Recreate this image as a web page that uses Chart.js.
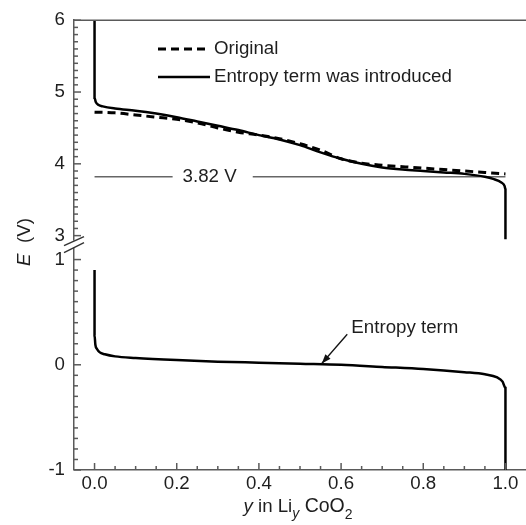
<!DOCTYPE html>
<html>
<head>
<meta charset="utf-8">
<script src="https://cdn.jsdelivr.net/npm/chart.js@4"></script>
<style>body{margin:0;background:#fff}</style>
</head>
<body>
<canvas id="chart" width="526" height="525"></canvas>
<script>
// values: y in LiyCoO2 vs E (V)
var origX = [0, 0.05, 0.1, 0.15, 0.2, 0.25, 0.3, 0.35, 0.4, 0.45, 0.5, 0.55, 0.6, 0.65, 0.7, 0.75, 0.8, 0.85, 0.9, 0.95, 1.0];
var origE = [4.72, 4.71, 4.68, 4.65, 4.62, 4.57, 4.50, 4.44, 4.40, 4.35, 4.28, 4.19, 4.07, 4.01, 3.98, 3.96, 3.94, 3.92, 3.90, 3.88, 3.86];

var entX = [0, 0, 0.003, 0.01, 0.02, 0.05, 0.1, 0.15, 0.2, 0.25, 0.3, 0.35, 0.4, 0.45, 0.5, 0.55, 0.6, 0.65, 0.7, 0.75, 0.8, 0.85, 0.9, 0.95, 0.97, 0.99, 0.998, 1.0, 1.0];
var entE = [6.0, 4.92, 4.86, 4.82, 4.80, 4.77, 4.74, 4.70, 4.65, 4.59, 4.53, 4.47, 4.40, 4.34, 4.26, 4.16, 4.07, 4.00, 3.95, 3.92, 3.90, 3.88, 3.86, 3.82, 3.79, 3.74, 3.69, 3.64, 2.95];

var termX = [0, 0, 0.002, 0.006, 0.012, 0.025, 0.05, 0.1, 0.2, 0.3, 0.4, 0.5, 0.6, 0.7, 0.8, 0.9, 0.95, 0.98, 0.993, 1.0, 1.0];
var termE = [0.9, 0.28, 0.19, 0.15, 0.12, 0.10, 0.08, 0.065, 0.045, 0.03, 0.02, 0.01, 0.0, -0.02, -0.04, -0.07, -0.09, -0.12, -0.16, -0.22, -1.0];

var refX = [0, 0.19, 0.19, 0.385, 1.0];
var refE = [3.82, 3.82, null, 3.82, 3.82];

var xTicks = [0, 0.2, 0.4, 0.6, 0.8, 1.0];
var topTicks = [3, 4, 5, 6];
var botTicks = [-1, 0, 1];

var FONT = '"Liberation Sans", Arial, sans-serif';
var FS = 18.7;
var TXT = '#1e1e1e';
var AXIS = '#5a5a5a';

function pts(xs, ys) {
  return xs.map(function (x, i) { return { x: x, y: ys[i] }; });
}
function fixTicks(vals) {
  return function (s) { s.ticks = vals.map(function (v) { return { value: v }; }); };
}

function line(ctx, x1, y1, x2, y2) {
  ctx.beginPath(); ctx.moveTo(x1, y1); ctx.lineTo(x2, y2); ctx.stroke();
}
function rich(ctx, parts, cx, cy) {
  var total = 0;
  parts.forEach(function (p) { ctx.font = p.f; p.w = ctx.measureText(p.t).width; total += p.w; });
  var x = cx - total / 2;
  parts.forEach(function (p) { ctx.font = p.f; ctx.fillText(p.t, x, cy + (p.dy || 0)); x += p.w; });
}

var decor = {
  id: 'decor',
  afterDraw: function (chart) {
    var ctx = chart.ctx, a = chart.chartArea;
    var xs = chart.scales.x, yt = chart.scales.yTop, yb = chart.scales.yBot;
    var v, p, i;
    ctx.save();
    ctx.strokeStyle = AXIS;
    ctx.lineWidth = 1.5;
    line(ctx, a.left, a.top, a.right, a.top);

    // inward tick marks
    for (i = 0; i <= 20; i++) {
      v = i * 0.05; p = xs.getPixelForValue(v);
      line(ctx, p, a.bottom, p, a.bottom - (i % 4 === 0 ? 7 : 4));
    }
    for (i = 0; i <= 30; i++) {
      v = 3 + i * 0.1; p = yt.getPixelForValue(v);
      line(ctx, a.left, p, a.left + (i % 10 === 0 ? 7 : 4), p);
    }
    for (i = 0; i <= 20; i++) {
      v = -1 + i * 0.1; p = yb.getPixelForValue(v);
      line(ctx, a.left, p, a.left + (i % 10 === 0 ? 7 : 4), p);
    }

    // axis break
    var yb1 = yt.bottom - 7, yb2 = yt.bottom;
    ctx.fillStyle = '#fff';
    ctx.fillRect(a.left - 2, yb1, 4, yb2 - yb1);
    ctx.strokeStyle = '#333';
    ctx.lineWidth = 1.5;
    line(ctx, a.left - 10, yb1 + 5, a.left + 10, yb1 - 4);
    line(ctx, a.left - 10, yb2 + 5, a.left + 10, yb2 - 5);

    // legend
    ctx.strokeStyle = '#000';
    ctx.lineWidth = 3;
    ctx.setLineDash([8, 5]);
    line(ctx, 158, 49, 206, 49);
    ctx.setLineDash([]);
    ctx.lineWidth = 2.5;
    line(ctx, 158, 77, 210, 77);
    ctx.fillStyle = TXT;
    ctx.font = FS + 'px ' + FONT;
    ctx.textBaseline = 'middle';
    ctx.textAlign = 'left';
    ctx.fillText('Original', 214, 49);
    ctx.fillText('Entropy term was introduced', 214, 77);

    // annotations
    ctx.textAlign = 'center';
    ctx.fillText('3.82 V', xs.getPixelForValue(0.28), yt.getPixelForValue(3.82));
    ctx.textAlign = 'left';
    ctx.fillText('Entropy term', xs.getPixelForValue(0.625), yb.getPixelForValue(0.355));

    var ax1 = xs.getPixelForValue(0.615), ay1 = yb.getPixelForValue(0.29);
    var ax2 = xs.getPixelForValue(0.553), ay2 = yb.getPixelForValue(0.012);
    ctx.strokeStyle = '#111';
    ctx.lineWidth = 1.3;
    line(ctx, ax1, ay1, ax2, ay2);
    var ang = Math.atan2(ay2 - ay1, ax2 - ax1);
    ctx.fillStyle = '#111';
    ctx.beginPath();
    ctx.moveTo(ax2, ay2);
    ctx.lineTo(ax2 - 10 * Math.cos(ang - 0.35), ay2 - 10 * Math.sin(ang - 0.35));
    ctx.lineTo(ax2 - 10 * Math.cos(ang + 0.35), ay2 - 10 * Math.sin(ang + 0.35));
    ctx.closePath();
    ctx.fill();

    // axis titles
    ctx.fillStyle = TXT;
    ctx.textAlign = 'left';
    ctx.textBaseline = 'alphabetic';
    rich(ctx, [
      { t: 'y', f: 'italic ' + FS + 'px ' + FONT },
      { t: ' in Li', f: FS + 'px ' + FONT },
      { t: 'y', f: 'italic 14px ' + FONT, dy: 6 },
      { t: ' CoO', f: '19.5px ' + FONT },
      { t: '2', f: '14px ' + FONT, dy: 7 }
    ], (a.left + a.right) / 2 - 2, 512);

    ctx.translate(25, 242);
    ctx.rotate(-Math.PI / 2);
    ctx.textBaseline = 'middle';
    rich(ctx, [
      { t: 'E', f: 'italic ' + FS + 'px ' + FONT },
      { t: '  (V)', f: FS + 'px ' + FONT }
    ], 0, 0);
    ctx.restore();
  }
};

new Chart(document.getElementById('chart'), {
  type: 'scatter',
  data: {
    datasets: [
      { label: 'Original', data: pts(origX, origE), yAxisID: 'yTop',
        borderColor: '#000', borderWidth: 3, borderDash: [8, 5] },
      { label: 'Entropy term was introduced', data: pts(entX, entE), yAxisID: 'yTop',
        borderColor: '#000', borderWidth: 2.5 },
      { label: '3.82 V', data: pts(refX, refE), yAxisID: 'yTop', cubicInterpolationMode: 'default',
        borderColor: '#666', borderWidth: 1.3, spanGaps: false },
      { label: 'Entropy term', data: pts(termX, termE), yAxisID: 'yBot',
        borderColor: '#000', borderWidth: 2.5 }
    ]
  },
  options: {
    responsive: false,
    animation: false,
    devicePixelRatio: 1,
    datasets: { scatter: { showLine: true, pointRadius: 0, tension: 0, fill: false, cubicInterpolationMode: 'monotone' } },
    layout: { padding: { top: 19, left: 0, right: 0, bottom: 0 } },
    plugins: { legend: { display: false }, tooltip: { enabled: false } },
    scales: {
      x: {
        type: 'linear', min: -0.05, max: 1.05,
        afterBuildTicks: fixTicks(xTicks),
        afterFit: function (s) { s.height = 55; },
        grid: { display: false, drawTicks: false },
        border: { display: true, color: AXIS, width: 1.5 },
        ticks: { color: TXT, padding: 3, font: { family: FONT, size: FS },
          callback: function (v) { return v.toFixed(1); } }
      },
      yBot: {
        type: 'linear', position: 'left', stack: 'e', stackWeight: 223,
        min: -1, max: 1.1137,
        afterBuildTicks: fixTicks(botTicks),
        afterFit: function (s) { s.width = 74; },
        grid: { display: false, drawTicks: false },
        border: { display: true, color: AXIS, width: 1.5 },
        ticks: { color: TXT, padding: 9, font: { family: FONT, size: FS },
          callback: function (v) { return String(v); } }
      },
      yTop: {
        type: 'linear', position: 'left', stack: 'e', stackWeight: 228,
        min: 2.8333, max: 6,
        afterBuildTicks: fixTicks(topTicks),
        afterFit: function (s) { s.width = 74; },
        grid: { display: false, drawTicks: false },
        border: { display: true, color: AXIS, width: 1.5 },
        ticks: { color: TXT, padding: 9, font: { family: FONT, size: FS },
          callback: function (v) { return String(v); } }
      }
    }
  },
  plugins: [decor]
});
</script>
</body>
</html>
